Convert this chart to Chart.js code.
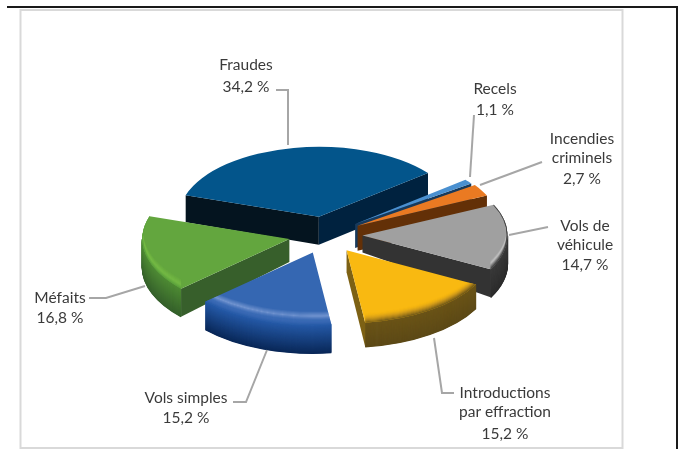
<!DOCTYPE html>
<html lang="fr">
<head>
<meta charset="utf-8">
<style>html,body{margin:0;padding:0;background:#fff}canvas{display:block}</style>
<script src="https://cdn.jsdelivr.net/npm/chart.js@4"></script>
</head>
<body>
<canvas id="c" width="681" height="449"></canvas>
<script>
const categories = ["Fraudes", "Recels", "Incendies criminels", "Vols de véhicule", "Introductions par effraction", "Vols simples", "Méfaits"];
const values = [34.2, 1.1, 2.7, 14.7, 15.2, 15.2, 16.8];
const topColors = ["#03558b", "#4a90d0", "#ea7a22", "#a0a0a0", "#f9b911", "#3567b2", "#63a63e"];

// label lines per category (the last line is the value)
const labelLines = [["Fraudes"], ["Recels"], ["Incendies", "criminels"], ["Vols de", "véhicule"], ["Introductions", "par effraction"], ["Vols simples"], ["Méfaits"]];
const fmt = v => v.toFixed(1).replace(".", ",") + " %";

// layout and styling of the fake 3D
const CX = 325.5, CY = 235, SQ = 0.5, EXPLODE = 37;
const NEAR = [1, 1.01, 1.02, 1.035, 1.045, 1.04, 1.05];   // perspective enlargement per slice
const DEPTH = [27, 26, 26, 28, 24, 28, 28];               // wall height at the rim
const APEX_DEPTH = [28, 24, 25, 17, 22, 24, 23];          // wall height at the apex
const DRAW_ORDER = [0, 1, 2, 3, 6, 5, 4];
const WALL = [
  [[0,34,63],[0,34,63]], [[31,78,121],[23,58,92]], [[107,50,8],[99,48,7]], [[58,58,58],[45,45,45]],
  [[107,84,24],[93,74,23]], [[37,89,166],[10,40,88]], [[78,138,52],[53,96,43]]
];
const CUT_START = ["#04141f", null, null, null, null, null, "#375f2b"];
const CUT_END = ["#00223f", "#173a5c", "#633007", "#333333", "#7d6114", null, null];
const BEVEL = [
  null, null, null,
  [[-9,[200,200,200,0]],[-6,[215,215,215,.5]],[-3,[120,120,120,.7]],[0,[60,60,60,1]]],
  [[-10,[249,185,17,0]],[-5,[190,140,30,.6]],[0,[107,84,24,1]]],
  [[-14,[150,175,225,0]],[-9,[150,175,225,.6]],[-5,[70,115,190,.3]],[0,[37,89,166,1]]],
  [[-10,[120,190,70,0]],[-4,[120,190,70,.7]],[0,[90,160,60,1]]]
];
const LABEL_POS = [
  [246, [65, 87]], [495, [89, 110]], [582, [139, 158, 179]], [585, [226, 245, 265]],
  [505, [393, 412, 434]], [186, [398, 418]], [60, [298, 318]]
];
const LEADERS = [
  [[276,90],[288,90],[288,145]],
  [[474,115],[470,177]],
  [[480,185],[542,162]],
  [[509,235],[548,227]],
  [[434,338],[442,393],[454,393]],
  [[267,350],[246,402],[233,402]],
  [[145,286],[106,298],[89,298]]
];

const lerp = (a, b, t) => a.map((v, i) => v + (b[i] - v) * t);
const rgba = c => `rgba(${c[0]|0},${c[1]|0},${c[2]|0},${c.length > 3 ? c[3] : 1})`;
function stopColor(stops, k) {
  for (let i = 0; i < stops.length - 1; i++) {
    if (k <= stops[i + 1][0]) return lerp(stops[i][1], stops[i + 1][1], (k - stops[i][0]) / (stops[i + 1][0] - stops[i][0]));
  }
  return stops[stops.length - 1][1];
}

const fake3d = {
  id: "fake3d",
  beforeDraw(chart) {
    const g = chart.ctx;
    g.save();
    g.fillStyle = "#fff"; g.fillRect(0, 0, 681, 449);
    g.strokeStyle = "#d9d9d9"; g.lineWidth = 2;
    g.strokeRect(20.5, 10, 602, 438);
    g.strokeStyle = "#1a1a1a"; g.lineWidth = 2;
    g.beginPath(); g.moveTo(7, 7); g.lineTo(677, 7); g.lineTo(677, 449); g.stroke();
    g.restore();
  },
  beforeDatasetsDraw(chart) {
    const g = chart.ctx, arcs = chart.getDatasetMeta(0).data;
    for (const i of DRAW_ORDER) {
      const arc = arcs[i], a = arc.startAngle, b = arc.endAngle, r = arc.outerRadius * NEAR[i], mid = (a + b) / 2;
      const x0 = CX + Math.cos(mid) * EXPLODE, y0 = CY + Math.sin(mid) * EXPLODE * SQ, d = DEPTH[i], da = APEX_DEPTH[i];
      const P = t => [x0 + r * Math.cos(t), y0 + r * SQ * Math.sin(t)];
      // outer wall: only the front half of the ellipse shows
      for (const off of [-2 * Math.PI, 0, 2 * Math.PI]) {
        const s = Math.max(a, off), e = Math.min(b, off + Math.PI);
        if (e <= s) continue;
        for (let k = d; k >= 0; k -= 0.5) {
          g.beginPath();
          g.ellipse(x0, y0 + k, r, r * SQ, 0, s, e);
          g.strokeStyle = rgba(lerp(WALL[i][0], WALL[i][1], k / d));
          g.lineWidth = 1.5; g.stroke();
        }
      }
      // radial cut faces that look towards the viewer
      const quad = (t, col) => {
        const p = P(t);
        g.beginPath();
        g.moveTo(x0, y0); g.lineTo(p[0], p[1]); g.lineTo(p[0], p[1] + d); g.lineTo(x0, y0 + da);
        g.closePath(); g.fillStyle = col; g.fill();
      };
      if (CUT_START[i]) quad(a, CUT_START[i]);
      if (CUT_END[i]) quad(b, CUT_END[i]);
      // top face, drawn by the library's arc element in a squashed space
      g.save();
      g.translate(x0, y0); g.scale(NEAR[i], SQ * NEAR[i]); g.translate(-arc.x, -arc.y);
      arc.draw(g);
      g.restore();
      // rim shading on the front edge of the top face
      if (BEVEL[i]) {
        g.save();
        g.beginPath(); g.moveTo(x0, y0); g.ellipse(x0, y0, r, r * SQ, 0, a, b); g.closePath(); g.clip();
        const stops = BEVEL[i];
        for (let k = stops[0][0]; k <= 0; k += 1) {
          g.beginPath(); g.ellipse(x0, y0 + k, r, r * SQ, 0, a, b);
          g.strokeStyle = rgba(stopColor(stops, k)); g.lineWidth = 1.2; g.stroke();
        }
        g.restore();
      }
    }
    // leaders and labels
    g.save();
    g.strokeStyle = "#a6a6a6"; g.lineWidth = 2; g.lineJoin = "miter";
    LEADERS.forEach(l => { g.beginPath(); l.forEach((p, n) => n ? g.lineTo(p[0], p[1]) : g.moveTo(p[0], p[1])); g.stroke(); });
    g.fillStyle = "#3a3a3a"; g.font = '15.5px Lato, "Open Sans", sans-serif';
    g.textAlign = "center"; g.textBaseline = "middle";
    categories.forEach((c, i) => {
      const lines = labelLines[i].concat(fmt(values[i]));
      lines.forEach((t, n) => g.fillText(t, LABEL_POS[i][0], LABEL_POS[i][1][n]));
    });
    g.restore();
    return false;
  }
};

new Chart(document.getElementById("c"), {
  type: "pie",
  data: { labels: categories, datasets: [{ data: values, backgroundColor: topColors, borderWidth: 0, radius: 140 }] },
  options: {
    responsive: false, animation: false, rotation: 288,
    layout: { padding: 0 },
    plugins: { legend: { display: false }, tooltip: { enabled: false } }
  },
  plugins: [fake3d]
});
</script>
</body>
</html>
